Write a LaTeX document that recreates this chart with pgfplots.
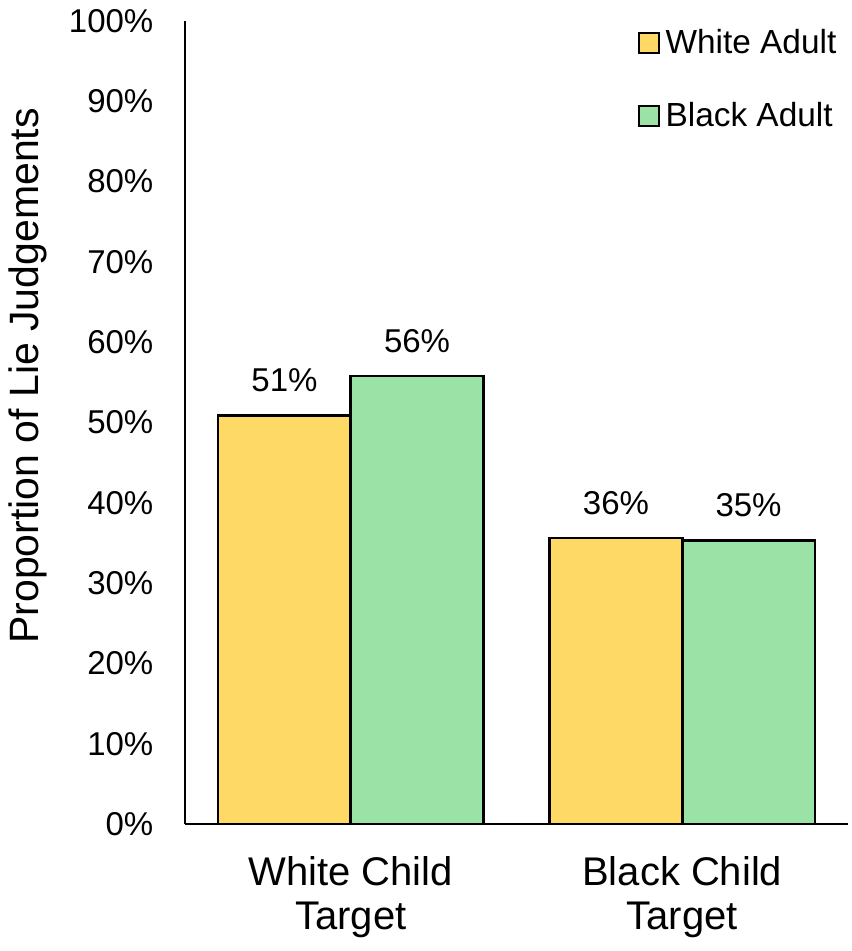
\documentclass[border=0pt]{standalone}
\usepackage{fontspec}
\setmainfont{Liberation Sans}
\usepackage{pgfplots}
\pgfplotsset{compat=1.18}
\definecolor{wy}{HTML}{FFD966}
\definecolor{bg}{HTML}{9BE2A6}
\begin{document}
\begin{tikzpicture}
\begin{axis}[
  at={(0,0)}, anchor=south west,
  scale only axis, width=331.5pt, height=401.5pt,
  ymin=0, ymax=100, xmin=-0.5, xmax=1.5,
  ybar, bar width=0.4,
  axis x line*=bottom, axis y line*=left,
  axis line style={-, line width=1pt, black},
  major tick length=0pt,
  /pgf/number format/assume math mode=true,
  ytick={0,10,...,100},
  yticklabel={\pgfmathprintnumber{\tick}\%},
  yticklabel style={font=\fontsize{16.5}{19}\selectfont, xshift=-12.3pt},
  xtick={0,1},
  xticklabels={{White Child\\Target},{Black Child\\Target}},
  xticklabel style={font=\fontsize{20}{22}\selectfont, align=center, yshift=-12.5pt},
  ylabel={Proportion of Lie Judgements},
  ylabel style={font=\fontsize{20.5}{22}\selectfont, at={(axis description cs:-0.2217,0.558)}, anchor=base},
  nodes near coords={\pgfmathprintnumber[fixed,precision=0]{\pgfplotspointmeta}\%},
  nodes near coords style={font=\fontsize{16.5}{19}\selectfont, inner sep=0pt, yshift=11pt, anchor=south, black},
  legend style={draw=none, fill=none, at={(axis description cs:0.682,0.998)}, anchor=north west,
    font=\fontsize{16.7}{20}\selectfont, row sep=17pt, column sep=0pt, inner sep=0pt,
    nodes={inner sep=3pt}},
  legend cell align=left,
  clip=false,
]
\addplot[fill=wy, draw=black, line width=1.3pt, bar shift=-0.2,
  legend image code/.code={\draw[fill=wy, draw=black, line width=1pt] (0pt,-5pt) rectangle (10pt,5pt);}]
  coordinates {(0,50.9) (1,35.6)};
\addlegendentry{White Adult}
\addplot[fill=bg, draw=black, line width=1.3pt, bar shift=0.2,
  legend image code/.code={\draw[fill=bg, draw=black, line width=1pt] (0pt,-5pt) rectangle (10pt,5pt);}]
  coordinates {(0,55.8) (1,35.3)};
\addlegendentry{Black Adult}
\end{axis}
\pgfresetboundingbox
\path (-92.5pt,-63.5pt) rectangle (333pt,412pt);
\end{tikzpicture}
\end{document}
